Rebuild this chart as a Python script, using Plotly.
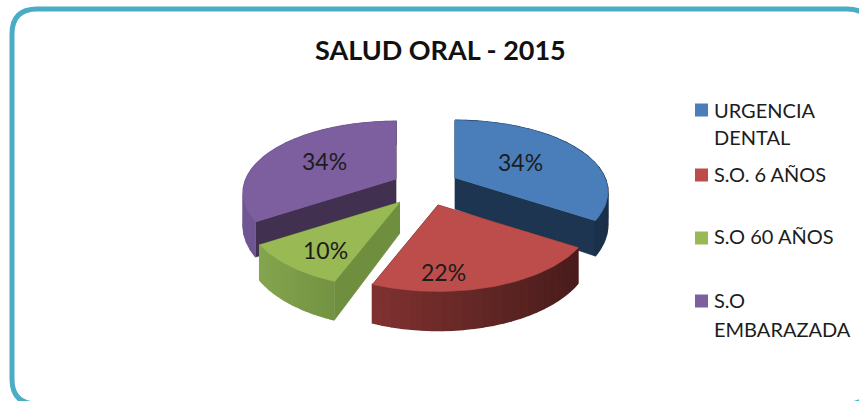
import numpy as np
import plotly.graph_objects as go

# ---- data ----
TITLE = "SALUD ORAL - 2015"
categories = ["URGENCIA DENTAL", "S.O. 6 AÑOS", "S.O 60 AÑOS", "S.O EMBARAZADA"]
shares = [34, 22, 10, 34]

# ---- styles / layout ----
legend_lines = [["URGENCIA", "DENTAL"], ["S.O. 6 AÑOS"], ["S.O 60 AÑOS"], ["S.O", "EMBARAZADA"]]
legend_text_y = [[110, 137], [174], [236], [300, 329]]
legend_mark_y = [110, 175, 238, 301]
top_colors = ["#4a7ebb", "#bd4d4a", "#98b954", "#7d5fa0"]
cut_colors = ["#1d3550", "#5a2322", "#6f8f3f", "#423050"]
wall_left = [(32, 58, 90), (128, 50, 48), (132, 165, 78), (112, 86, 146)]
wall_right = [(26, 48, 74), (72, 28, 27), (116, 146, 66), (104, 78, 136)]
apexes = [(455, 178), (438, 205), (400, 202), (396, 179)]
label_pos = [(520, 162), (443, 272), (325, 250), (324, 161)]
RX, RY, K, H0, HK = 150, 72, 0.2, 31, 0.26
draw_order = [3, 0, 2, 1]
TEXT = "#1c1c1c"
W, H = 859, 401

edges = np.concatenate([[0], np.cumsum(shares)]) / sum(shares) * 2 * np.pi


def rim(apex, t):
    s = 1 - K * np.cos(t)
    return apex[0] + RX * np.sin(t) * s, apex[1] - RY * np.cos(t) * s


def drop(t):
    return H0 * (1 - HK * np.cos(t))


def poly(fig, xs, ys, color, width=0.7):
    fig.add_trace(go.Scatter(x=list(xs), y=list(ys), mode="lines", fill="toself",
                             fillcolor=color, line=dict(color=color, width=width),
                             hoverinfo="skip", showlegend=False))


fig = go.Figure()
for i in draw_order:
    a0, a1 = edges[i], edges[i + 1]
    apex = apexes[i]
    # cut faces
    for t in (a0, a1):
        rx, ry = rim(apex, t)
        poly(fig, [apex[0], rx, rx, apex[0]],
             [apex[1], ry, ry + drop(t), apex[1] + H0], cut_colors[i])
    # curved outer wall with a horizontal shading
    ts = np.linspace(a0, a1, 25)
    xmin, xmax = min(rim(apex, t)[0] for t in ts), max(rim(apex, t)[0] for t in ts)
    for t0, t1 in zip(ts[:-1], ts[1:]):
        x0, y0 = rim(apex, t0)
        x1, y1 = rim(apex, t1)
        f = ((x0 + x1) / 2 - xmin) / max(xmax - xmin, 1)
        c = [round(l + (r - l) * f) for l, r in zip(wall_left[i], wall_right[i])]
        poly(fig, [x0, x1, x1, x0], [y0, y1, y1 + drop(t1), y0 + drop(t0)],
             f"rgb({c[0]},{c[1]},{c[2]})", width=1.6)
    # top face
    ts = np.linspace(a0, a1, 60)
    pts = [rim(apex, t) for t in ts]
    poly(fig, [apex[0]] + [p[0] for p in pts], [apex[1]] + [p[1] for p in pts], top_colors[i])

annotations = [dict(x=440, y=49, text=f"<b>{TITLE}</b>", showarrow=False,
                    font=dict(family="Lato", size=27, color="#111111"))]
for v, (x, y) in zip(shares, label_pos):
    annotations.append(dict(x=x, y=y, text=f"{v}%", showarrow=False,
                            font=dict(family="Lato", size=23, color=TEXT)))
for lines, ys in zip(legend_lines, legend_text_y):
    for line, y in zip(lines, ys):
        annotations.append(dict(x=712, y=y, text=line, showarrow=False, xanchor="left",
                                font=dict(family="Lato", size=20, color=TEXT)))

# legend swatches
fig.add_trace(go.Scatter(x=[701.5] * 4, y=legend_mark_y, mode="markers",
                         marker=dict(symbol="square", size=13, color=top_colors),
                         hoverinfo="skip", showlegend=False))

frame = ("M 12 34 Q 12 9 37 9 L 847 9 Q 872 9 872 34 L 872 379 Q 872 404 847 404 "
         "L 37 404 Q 12 404 12 379 Z")
fig.update_layout(
    width=W, height=H, margin=dict(l=0, r=0, t=0, b=0),
    paper_bgcolor="white", plot_bgcolor="white",
    xaxis=dict(range=[0, W], visible=False, fixedrange=True),
    yaxis=dict(range=[H, 0], visible=False, fixedrange=True),
    annotations=annotations,
    shapes=[dict(type="path", path=frame, xref="x", yref="y",
                 line=dict(color="#4bacc6", width=5), layer="below")],
)
fig.write_html("out.html", config=dict(displayModeBar=False),
               post_script="document.body.style.margin='0';document.body.style.overflow='hidden';")
